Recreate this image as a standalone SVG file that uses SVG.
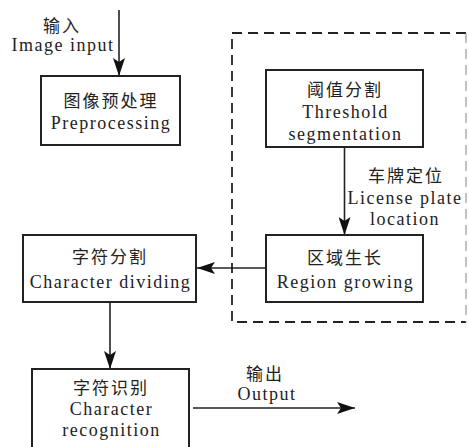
<svg xmlns="http://www.w3.org/2000/svg" width="469" height="447" viewBox="0 0 469 447">
<defs>
<style>
.box{fill:#fff;stroke:#222;stroke-width:2}
.t{font-family:"Liberation Serif","Noto Sans CJK SC",serif;font-size:18px;fill:#222;text-anchor:middle;letter-spacing:1.5px}
.zh{font-family:"Noto Sans CJK SC","Liberation Serif",sans-serif;font-size:17px;fill:#222;text-anchor:middle;letter-spacing:2px}
.ln{stroke:#222;stroke-width:1.6;fill:none}
.dash{stroke:#222;stroke-width:1.8;fill:none;stroke-dasharray:10 6}
</style>
<marker id="ah" viewBox="0 0 18 12" refX="18" refY="6" markerWidth="18" markerHeight="12" markerUnits="userSpaceOnUse" orient="auto">
<path d="M0,0 L18,6 L0,12 L4,6 Z" fill="#111"/>
</marker>
</defs>
<rect width="469" height="447" fill="#fff"/>
<g id="group-boundary">
<path class="dash" d="M466,33 L232,33 L232,322 L466,322"/>
<line x1="466" y1="33" x2="466" y2="322" stroke="#999" stroke-width="1.2" stroke-dasharray="10 6"/>
</g>
<g id="connectors">
<line class="ln" x1="119" y1="10" x2="119" y2="76" marker-end="url(#ah)"/>
<line class="ln" x1="344.5" y1="147" x2="344.5" y2="235" marker-end="url(#ah)"/>
<line class="ln" x1="266" y1="268" x2="197" y2="268" marker-end="url(#ah)"/>
<line class="ln" x1="110" y1="302" x2="110" y2="369" marker-end="url(#ah)"/>
<line class="ln" x1="193" y1="408" x2="355" y2="408" marker-end="url(#ah)"/>
<text class="zh" x="62" y="32">输入</text>
<text class="t" x="63" y="51">Image input</text>
<text class="zh" x="406" y="182">车牌定位</text>
<text class="t" x="405" y="204">License plate</text>
<text class="t" x="405" y="225">location</text>
<text class="zh" x="265" y="380">输出</text>
<text class="t" x="267" y="400">Output</text>
</g>
<g id="preprocessing">
<rect class="box" x="41" y="76" width="139" height="69"/>
<text class="zh" x="111" y="107">图像预处理</text>
<text class="t" x="111" y="129">Preprocessing</text>
</g>
<g id="threshold">
<rect class="box" x="266" y="70" width="157" height="77"/>
<text class="zh" x="345" y="96">阈值分割</text>
<text class="t" x="345.5" y="118">Threshold</text>
<text class="t" x="345.5" y="140">segmentation</text>
</g>
<g id="region">
<rect class="box" x="266" y="235" width="157" height="67"/>
<text class="zh" x="345" y="264">区域生长</text>
<text class="t" x="345.5" y="288">Region growing</text>
</g>
<g id="dividing">
<rect class="box" x="23" y="235" width="173" height="67"/>
<text class="zh" x="110" y="263">字符分割</text>
<text class="t" x="110.5" y="288">Character dividing</text>
</g>
<g id="recognition">
<rect class="box" x="32" y="369" width="157" height="80"/>
<text class="zh" x="111" y="394">字符识别</text>
<text class="t" x="111.5" y="415">Character</text>
<text class="t" x="111.5" y="436">recognition</text>
</g>
</svg>
